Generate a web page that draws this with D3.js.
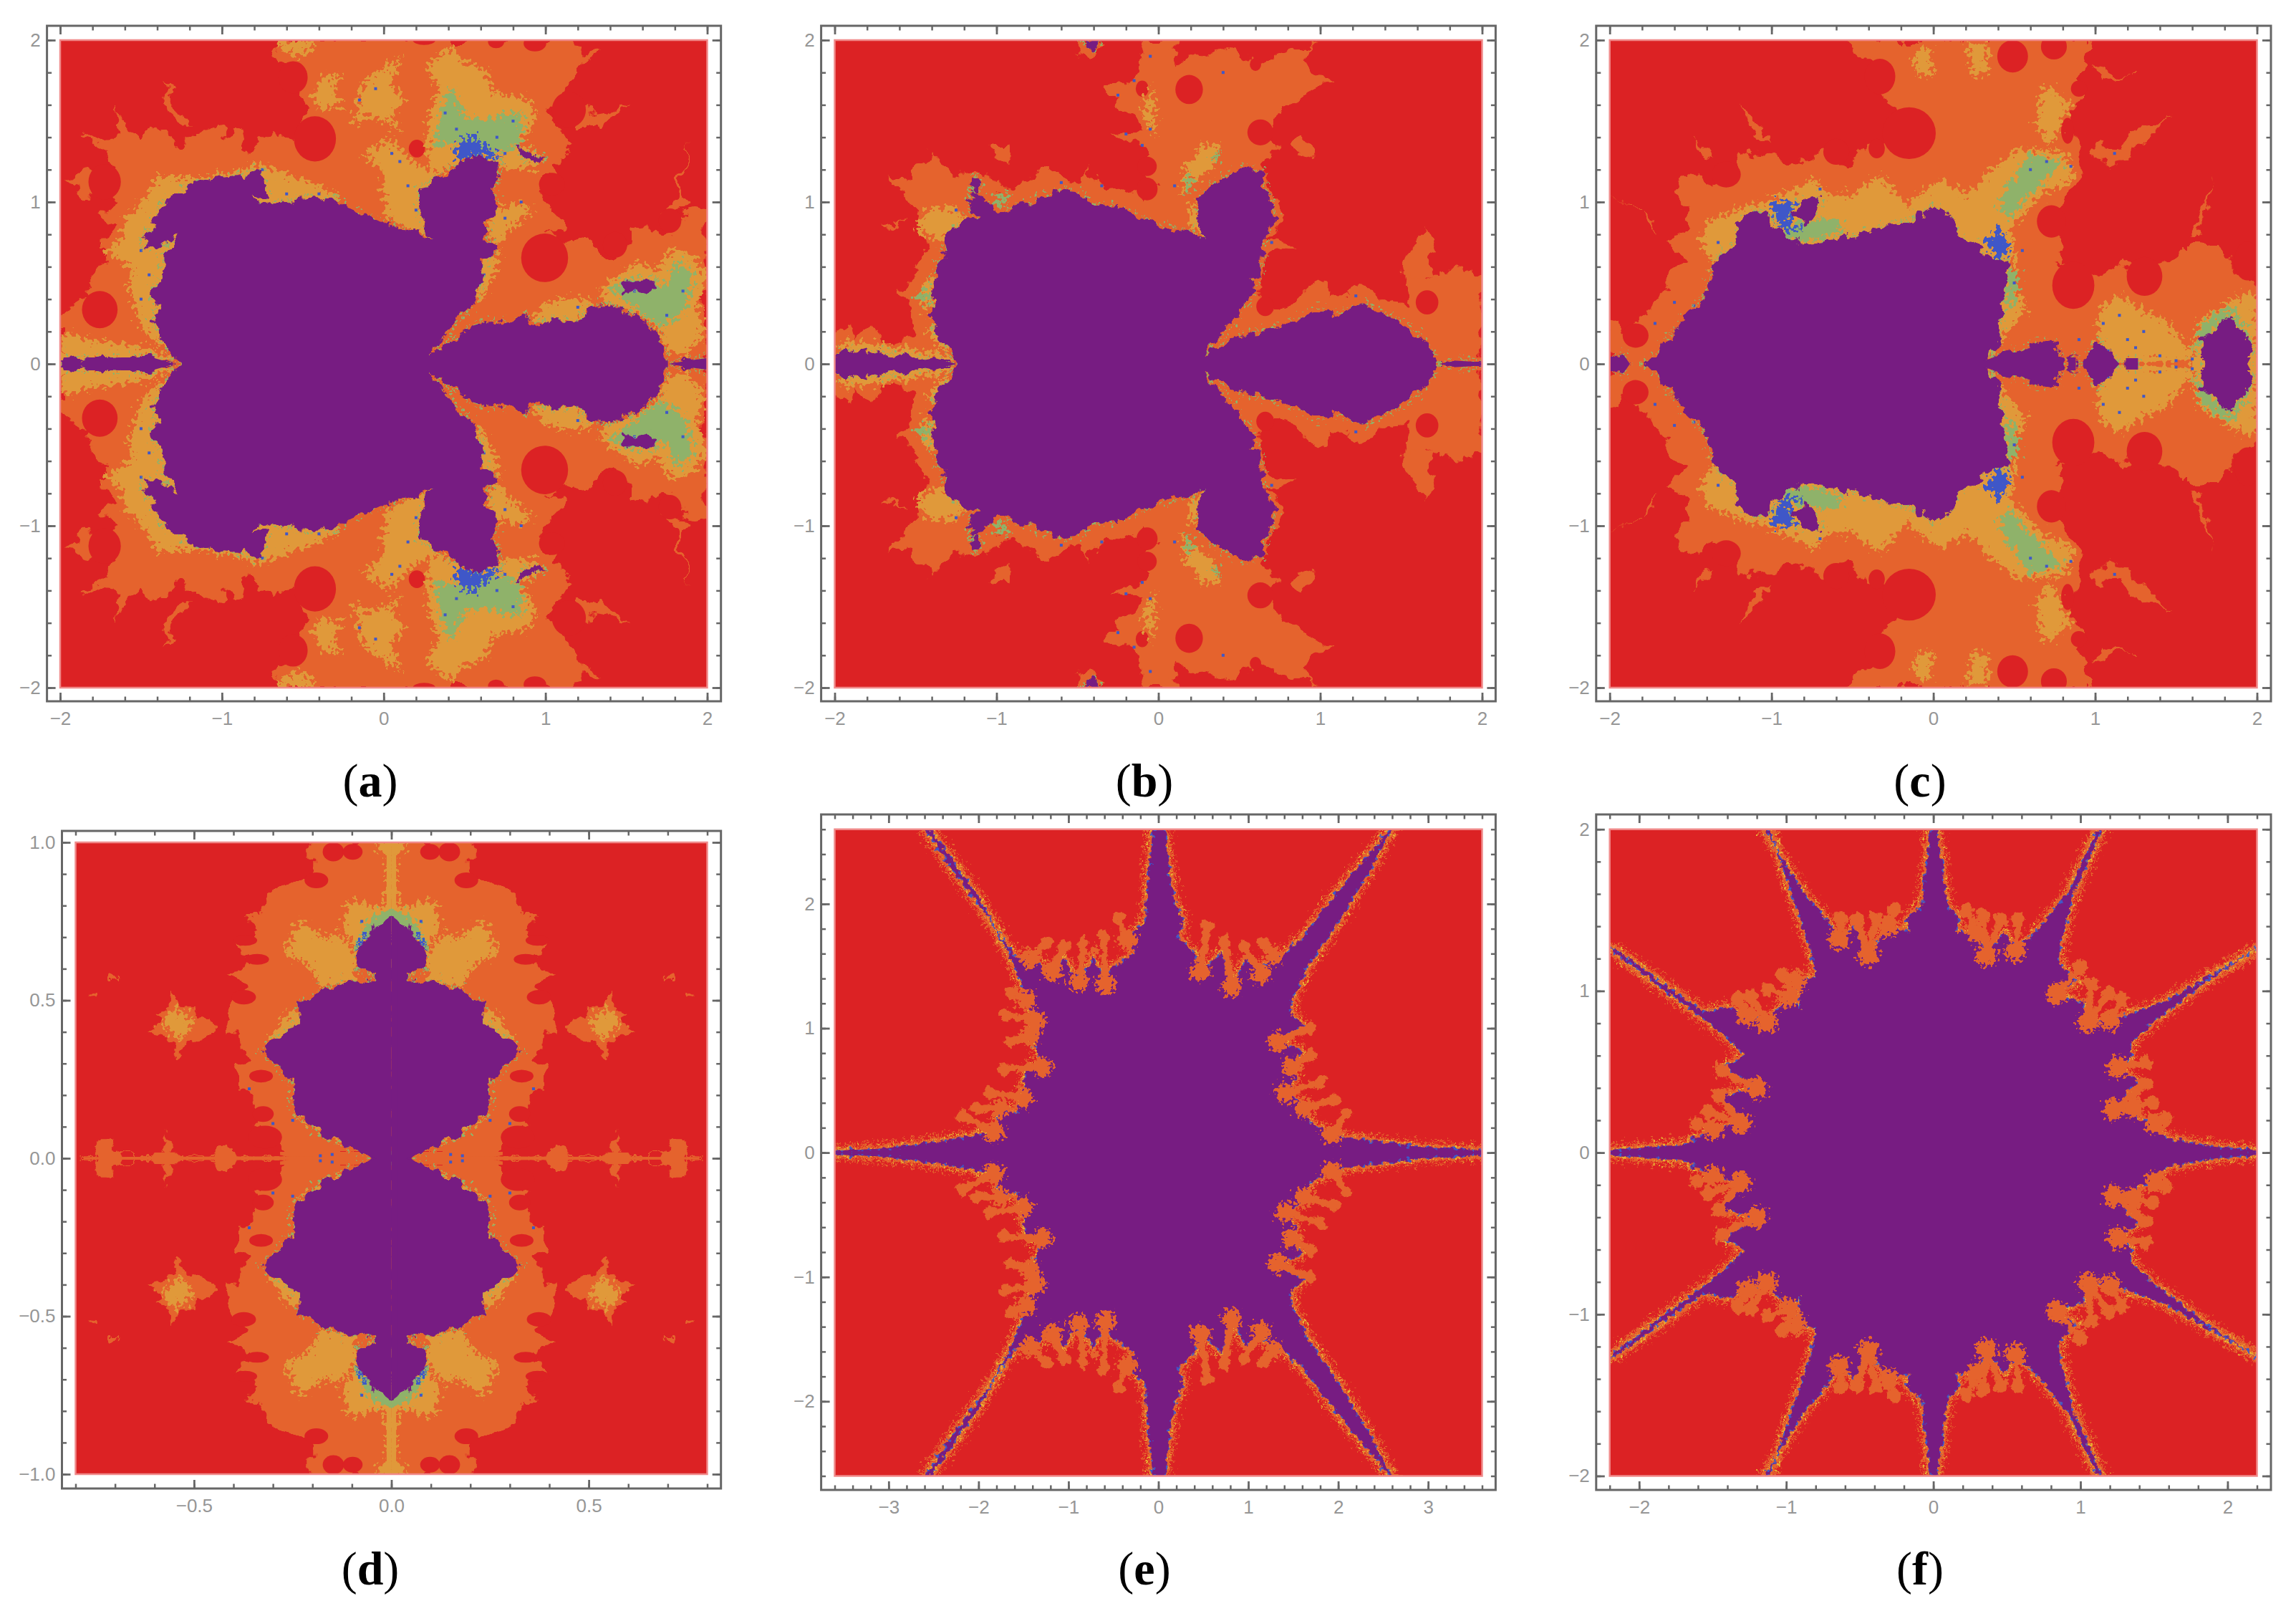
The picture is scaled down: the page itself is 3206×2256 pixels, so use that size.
<!DOCTYPE html>
<html>
<head>
<meta charset="utf-8">
<script src="https://cdn.jsdelivr.net/npm/d3@7"></script>
<style>
body { margin: 0; background: #fff; }
svg { display: block; }
</style>
</head>
<body>
<svg id="fig" width="3206" height="2256"></svg>
<script>
// outlines, in plot units, upper half only (mirrored when drawn)
const aPurple = [
 [[-1.24,0],[-1.32,.065],[-1.37,.16],[-1.42,.255],[-1.40,.35],[-1.435,.43],[-1.395,.49],[-1.365,.60],[-1.335,.70],[-1.29,.805],[-1.365,.735],[-1.47,.705],[-1.495,.80],[-1.415,.84],[-1.395,.965],[-1.29,1.03],[-1.17,1.12],[-1.02,1.155],[-.87,1.165],[-.77,1.205],[-.725,1.11],[-.74,1.03],[-.83,1.02],[-.695,.98],[-.515,1.02],[-.395,1.015],[-.29,1.02],[-.215,.95],[-.065,.905],[.085,.84],[.295,.775],[.235,.905],[.22,1.08],[.325,1.14],[.47,1.235],[.59,1.29],[.71,1.235],[.725,1.155],[.66,1.08],[.71,.98],[.635,.885],[.635,.76],[.71,.70],[.605,.635],[.59,.475],[.56,.38],[.455,.27],[.285,.05],[.47,.175],[.65,.26],[.80,.26],[.875,.30],[.95,.24],[1.07,.27],[1.205,.26],[1.265,.35],[1.40,.365],[1.58,.285],[1.70,.19],[1.735,.065],[1.735,0]],
 [[-1.99,0],[-1.975,.05],[-1.92,.05],[-1.87,.01],[-1.81,.045],[-1.69,.035],[-1.47,.05],[-1.29,0]],
 [[1.76,0],[1.88,.02],[2,.035],[2,0]],
 [[.83,1.345],[.905,1.30],[1.01,1.265],[.92,1.25],[.83,1.30]],
 [[1.49,.51],[1.685,.525],[1.67,.445],[1.47,.445]]
];
const aOrange = [
 [[-2,0],[-2,.26],[-1.92,.37],[-1.845,.43],[-1.77,.525],[-1.725,.70],[-1.785,.705],[-1.665,.855],[-1.77,.92],[-1.665,.98],[-1.635,1.155],[-1.695,1.30],[-1.86,1.44],[-1.74,1.38],[-1.635,1.41],[-1.665,1.60],[-1.56,1.44],[-1.50,1.38],[-1.41,1.46],[-1.335,1.42],[-1.26,1.345],[-1.17,1.40],[-1.0,1.47],[-.96,1.395],[-.89,1.46],[-.87,1.345],[-.81,1.33],[-.755,1.41],[-.665,1.41],[-.54,1.38],[-.52,1.57],[-.47,1.585],[-.54,1.68],[-.48,1.775],[-.545,1.85],[-.65,1.835],[-.695,1.945],[-.65,2],[1.16,2],[1.25,1.945],[1.37,1.93],[1.205,1.87],[1.175,1.775],[1.07,1.645],[1.04,1.52],[1.10,1.41],[1.16,1.36],[1.115,1.27],[1.04,1.23],[1.10,1.155],[.965,1.14],[.95,1.03],[1.04,.957],[1.115,.87],[1.02,.80],[1.16,.74],[1.235,.76],[1.325,.72],[1.415,.655],[1.505,.76],[1.52,.825],[1.595,.86],[1.73,.84],[1.80,.82],[1.875,.955],[2,.965],[2,0]],
 [[-1.365,1.755],[-1.29,1.58],[-1.185,1.47],[-1.275,1.485],[-1.35,1.565]],
 [[-1.98,1.155],[-1.815,1.19],[-1.755,1.14],[-1.785,1.0],[-1.86,1.03],[-1.875,1.11]],
 [[1.19,1.63],[1.265,1.615],[1.295,1.55],[1.52,1.62],[1.295,1.46],[1.19,1.46]],
 [[1.745,.92],[1.80,1.06],[1.905,1.38],[1.83,1.06],[1.89,1.0],[1.80,.92]]
];
const aAmber = [
 [[-1.35,.095],[-1.50,.225],[-1.575,.475],[-1.56,.60],[-1.74,.70],[-1.62,.76],[-1.605,.89],[-1.47,1.03],[-1.41,1.155],[-1.275,1.155],[-1.11,1.155],[-.90,1.19],[-.81,1.235],[-.74,1.235],[-.605,1.17],[-.425,1.11],[-.275,1.03],[-.5,.7],[-1.3,.3]],
 [[-.125,1.30],[.025,1.39],[.175,1.265],[.26,1.20],[.34,1.18],[.34,1.10],[.235,.98],[.265,.825],[.295,.775],[.115,.85],[.01,.915],[-.005,1.08],[-.005,1.185]],
 [[.265,1.455],[.34,1.71],[.265,1.835],[.40,1.96],[.50,1.865],[.62,1.83],[.68,1.68],[.89,1.63],[.95,1.535],[.845,1.36],[1.01,1.27],[.92,1.205],[.74,1.205],[.59,1.265],[.32,1.17],[.265,1.30]],
 [[-.20,1.475],[-.14,1.615],[-.185,1.645],[-.08,1.775],[.115,1.90],[.04,1.725],[.13,1.63],[.055,1.535],[.10,1.44],[-.005,1.505],[-.095,1.535]],
 [[-.44,1.645],[-.38,1.775],[-.275,1.79],[-.305,1.68],[-.26,1.60],[-.395,1.57]],
 [[-.665,1.96],[-.545,1.90],[-.425,1.945],[-.45,2],[-.65,2]],
 [[1.34,.475],[1.505,.585],[1.58,.635],[1.67,.57],[1.80,.73],[1.94,.635],[2,.54],[1.94,.35],[1.98,.19],[1.88,.065],[1.76,.065],[1.70,.225],[1.52,.32],[1.37,.38]],
 [[.92,.285],[1.01,.38],[1.19,.41],[1.31,.38],[1.22,.27],[.98,.22]],
 [[-2,.19],[-1.77,.145],[-1.47,.095],[-1.26,.03],[-2,0]],
 [[.56,.38],[.60,.65],[.72,.70],[.68,.55],[.62,.42]],
 [[.65,.78],[.64,.95],[.85,1.0],[.92,.95],[.80,.85],[.70,.72]]
];
const aGreen = [
 [[.34,1.52],[.41,1.71],[.50,1.535],[.62,1.505],[.86,1.57],[.845,1.36],[.71,1.30],[.50,1.38],[.32,1.33]],
 [[1.40,.46],[1.52,.54],[1.73,.475],[1.82,.635],[1.92,.57],[1.875,.35],[1.73,.225],[1.58,.32]]
];
const aBlue = [[[.43,1.33],[.545,1.425],[.62,1.345],[.74,1.27],[.58,1.285],[.47,1.235]]];
const aDiscs = [[-.425,1.39,.13,.14],[-1.755,.335,.11,.115],[-1.725,1.125,.10,.11],[.995,.655,.145,.15],[-.56,1.77,.09,.1],[.205,1.33,.05,.055],[1.43,.735,.075,.08],[1.145,1.57,.105,.11],[1.77,.885,.07,.075],[.25,2,.07,.03],[.695,1.99,.05,.04],[.935,1.98,.07,.05],[1.04,1.11,.08,.07]];
const aDots = [[.1,1.25],[.15,1.1],[.2,.95],[.05,1.3],[.38,1.55],[.45,1.45],[.7,1.4],[.8,1.5],[.75,1.3],[-1.5,.4],[-1.45,.55],[-1.5,.7],[-.75,1.2],[-.6,1.05],[-.4,1.05],[-.15,1.63],[-.05,1.7],[1.55,.45],[1.75,.3],[1.85,.45],[.75,.9],[.85,1.0],[.62,.55],[1.2,.35]];

const bPurple = [
 [[-1.24,0],[-1.28,.065],[-1.34,.145],[-1.385,.255],[-1.40,.38],[-1.385,.54],[-1.34,.665],[-1.30,.79],[-1.21,.89],[-1.12,.905],[-1.18,1.0],[-1.165,1.08],[-1.06,1.0],[-.955,.95],[-.85,.98],[-.70,1.03],[-.58,1.08],[-.46,1.045],[-.37,.965],[-.22,.98],[-.175,.935],[-.01,.855],[.30,.775],[.24,.885],[.26,1.03],[.375,1.14],[.525,1.20],[.63,1.205],[.66,1.08],[.72,.90],[.66,.775],[.63,.57],[.555,.41],[.48,.30],[.285,.05],[.495,.175],[.735,.22],[.885,.285],[1.005,.335],[1.095,.30],[1.245,.365],[1.365,.32],[1.485,.27],[1.63,.16],[1.715,.035],[1.715,0]],
 [[-2,0],[-2,.05],[-1.9,.09],[-1.785,.065],[-1.71,.08],[-1.635,.035],[-1.56,.065],[-1.47,.02],[-1.38,.035],[-1.25,0]],
 [[1.735,0],[1.84,.02],[2,.01],[2,0]],
 [[-.47,2],[-.45,1.96],[-.415,1.95],[-.38,1.96],[-.36,2]],
 [[-1.16,1.09],[-1.125,1.17],[-1.09,1.09],[-1.125,1.06]]
];
const bOrange = [
 [[-2,0],[-2,.19],[-1.91,.25],[-1.88,.145],[-1.76,.25],[-1.70,.13],[-1.535,.16],[-1.505,.285],[-1.565,.38],[-1.61,.445],[-1.49,.555],[-1.52,.635],[-1.415,.73],[-1.475,.885],[-1.67,1.19],[-1.52,1.125],[-1.43,1.33],[-1.33,1.22],[-1.21,1.19],[-1.10,1.14],[-1.03,1.155],[-.91,1.06],[-.82,1.155],[-.70,1.205],[-.595,1.17],[-.49,1.11],[-.43,1.22],[-.37,1.125],[-.295,1.06],[-.175,1.08],[-.10,1.03],[-.01,1.125],[-.115,1.235],[-.07,1.30],[-.085,1.345],[-.28,1.41],[-.115,1.455],[-.13,1.55],[-.25,1.60],[-.355,1.68],[-.205,1.725],[-.115,1.805],[-.10,2],[.11,2],[.09,1.87],[.30,1.915],[.39,1.965],[.48,1.915],[.60,1.84],[.705,1.885],[1.005,1.995],[.885,1.90],[.96,1.775],[1.095,1.76],[.885,1.645],[.765,1.57],[.705,1.44],[.72,1.345],[.63,1.235],[.66,1.11],[.81,.92],[.675,.79],[.855,.70],[.66,.65],[.615,.38],[.765,.32],[1.005,.555],[1.095,.38],[1.215,.475],[1.35,.43],[1.545,.35],[1.50,.585],[1.72,.57],[1.90,.60],[2,.525],[2,0]],
 [[.825,1.345],[.885,1.41],[.975,1.30],[.885,1.27]],
 [[-1.07,1.345],[-.935,1.345],[-.91,1.265],[-1.0,1.25]],
 [[-1.715,.87],[-1.58,.885],[-1.64,.84]],
 [[1.5,.57],[1.575,.70],[1.63,.855],[1.72,.70],[1.66,.57]],
 [[-.50,1.97],[-.415,2],[-.33,1.97],[-.415,1.87]]
];
const bAmber = [
 [[-1.5,.82],[-1.44,.95],[-1.25,.97],[-1.2,.88],[-1.33,.76]],
 [[-1.49,.42],[-1.42,.55],[-1.37,.5],[-1.37,.38],[-1.44,.33]],
 [[-1.42,.2],[-1.36,.3],[-1.33,.2],[-1.28,.08],[-1.36,.1]],
 [[.14,1.05],[.24,1.15],[.33,1.2],[.37,1.33],[.3,1.38],[.22,1.28],[.16,1.2]],
 [[.18,.86],[.24,.82],[.3,.78],[.26,.95],[.2,1.0]],
 [[-.1,1.55],[-.04,1.72],[-.02,1.5],[-.03,1.4]],
 [[-1.96,.14],[-1.72,.12],[-1.35,.07],[-1.26,.02],[-1.96,.02]]
];
const bGreen = [[[-1.0,.98],[-.92,1.0],[-.93,1.06],[-1.0,1.05]],[[.18,1.05],[.22,1.15],[.19,1.2],[.16,1.1]],[[-1.5,.42],[-1.43,.48],[-1.41,.42],[-1.46,.37]],[[.33,1.28],[.39,1.32],[.36,1.22]]];
const bBlue = [];
const bDiscs = [[.19,1.695,.085,.09],[.63,1.43,.08,.08],[-.07,1.08,.065,.07],[-.07,1.22,.06,.06],[1.66,.38,.07,.075],[.66,.355,.055,.06],[-.1,1.7,.04,.05],[.6,1.85,.035,.04]];
const bDots = [[-.1,1.35],[-.05,1.45],[-.2,1.42],[-.15,1.75],[-.25,1.66],[.4,1.8],[-.05,1.9],[.1,1.1],[-.35,1.1],[-1.25,.95],[-.6,1.12],[1.22,.42],[.7,.75],[.68,.9]];

const cPurple = [
 [[-1.78,0],[-1.715,.065],[-1.625,.175],[-1.535,.285],[-1.415,.41],[-1.38,.525],[-1.325,.68],[-1.22,.73],[-1.19,.885],[-1.09,.95],[-1.0,.92],[-.97,.84],[-.88,.76],[-.73,.76],[-.52,.775],[-.34,.84],[-.135,.885],[-.015,.98],[.105,.90],[.165,.79],[.37,.635],[.475,.635],[.43,.38],[.40,.13],[.31,.02],[.565,.095],[.64,.13],[.76,.12],[.805,.03],[.805,0]],
 [[.925,0],[1.015,.145],[1.15,0]],
 [[.835,0],[.835,.05],[.88,.05],[.88,0]],
 [[1.19,0],[1.19,.035],[1.265,.035],[1.265,0]],
 [[1.685,0],[1.655,.16],[1.73,.205],[1.835,.30],[1.91,.22],[1.975,.065],[1.94,0]],
 [[-2,0],[-2,.05],[-1.91,.05],[-1.875,0]],
 [[-.88,.92],[-.805,1.015],[-.70,1.03],[-.715,.935],[-.79,.855]]
];
const cOrange = [
 [[-2,0],[-2,.255],[-1.94,.285],[-1.925,.19],[-1.76,.35],[-1.67,.46],[-1.61,.57],[-1.55,.65],[-1.64,.76],[-1.535,.81],[-1.49,.965],[-1.61,1.08],[-1.43,1.17],[-1.34,1.105],[-1.25,1.17],[-1.18,1.315],[-1.03,1.265],[-.82,1.235],[-.655,1.345],[-.565,1.22],[-.46,1.33],[-.37,1.30],[-.25,1.40],[-.25,1.57],[-.3,1.65],[-.33,1.77],[-.4,1.87],[-.55,2],[1.0,2],[.88,1.775],[.925,1.665],[.835,1.52],[.88,1.33],[.88,1.08],[.73,.95],[.73,.825],[.82,.62],[.745,.60],[1.03,.54],[1.18,.60],[1.415,.635],[1.565,.73],[1.77,.73],[1.88,.54],[2,.51],[2,0]],
 [[-1.98,1.03],[-1.745,.885],[-1.715,.81],[-1.82,.94]],
 [[-1.19,1.615],[-1.0,1.36],[-1.12,1.425]],
 [[-1.475,1.39],[-1.37,1.25],[-1.445,1.235]],
 [[1.0,1.315],[1.46,1.52],[1.12,1.205],[.985,1.285]],
 [[.97,1.835],[1.22,1.80],[1.03,1.75]],
 [[1.595,.79],[1.745,1.14],[1.68,.92],[1.62,.78]]
];
const cAmber = [
 [[-1.445,.76],[-1.385,.885],[-1.18,.965],[-1.03,1.0],[-.73,1.14],[-.64,1.045],[-.49,1.045],[-.34,1.17],[-.255,1.075],[-.165,.98],[.045,1.14],[.195,1.045],[.40,1.235],[.55,1.33],[.82,1.30],[.88,1.14],[.67,1.045],[.49,.855],[.505,.475],[.58,.35],[.43,.16],[.34,.035],[-.5,.4],[-1.3,.5]],
 [[-.12,1.91],[-.03,1.96],[.0,1.8],[-.1,1.78]],
 [[.67,1.71],[.75,1.70],[.85,1.6],[.76,1.42],[.72,1.33],[.64,1.5]],
 [[.21,1.98],[.33,1.98],[.34,1.79],[.24,1.79]],
 [[1.03,.35],[1.15,.42],[1.3,.33],[1.45,.26],[1.55,.12],[1.62,.03],[1.0,0]],
 [[1.6,.12],[1.65,.27],[1.8,.36],[1.9,.42],[2,.45],[2,0],[1.6,0]]
];
const cGreen = [[[.4,.95],[.5,.9],[.55,1.0],[.8,1.25],[.6,1.3],[.45,1.1]],[[-.98,.78],[-.8,.75],[-.55,.82],[-.6,.9],[-.85,.88]],[[1.6,.05],[1.65,.24],[1.83,.36],[1.95,.2],[1.98,.07],[1.9,.22],[1.82,.28],[1.7,.19]],[[.45,.6],[.53,.55],[.5,.35],[.44,.38]]];
const cBlue = [[[-1.0,.93],[-.97,1.02],[-.85,1.0],[-.89,.9],[-.82,.82],[-.93,.83]],[[.32,.75],[.4,.85],[.48,.72],[.42,.63]]];
const cDiscs = [[-1.84,.175,.08,.075],[-.15,1.425,.165,.16],[-.33,1.775,.095,.11],[.49,1.9,.095,.1],[.745,1.96,.08,.08],[.865,.485,.13,.145],[1.305,.54,.11,.12],[1.94,.635,.08,.12],[-.35,1.33,.05,.06],[-.6,1.31,.08,.08],[-1.28,1.17,.09,.08],[.73,.88,.09,.1],[.9,1.7,.05,.05],[.83,1.44,.04,.08]];
const cDots = [[.6,1.2],[.7,1.25],[.85,1.22],[.35,.72],[.55,.7],[.5,.5],[1.05,.25],[1.15,.3],[1.2,.15],[1.3,.2],[1.4,.05],[1.5,.02],[1.6,.03],[-1.72,.25],[-1.6,.38],[-1.48,.36],[-1.33,.75],[1.08,.08],[.9,.15],[1.12,1.3],[-.7,1.08],[1.25,.1]];

// panel d is mirrored in x too, so only its upper right quarter is traced
const dPurple = [[[0,0],[.037,0],[.11,.035],[.185,.083],[.24,.14],[.25,.19],[.245,.24],[.295,.30],[.33,.345],[.28,.387],[.227,.436],[.233,.494],[.178,.527],[.135,.551],[.037,.568],[.08,.60],[.086,.65],[.055,.716],[0,.768]]];
const dOrange = [
 [[0,1],[.2,1],[.20,.913],[.245,.863],[.28,.839],[.32,.814],[.337,.773],[.375,.773],[.337,.732],[.355,.69],[.40,.683],[.35,.65],[.355,.61],[.435,.60],[.38,.568],[.368,.527],[.405,.494],[.423,.387],[.374,.42],[.368,.354],[.362,.32],[.393,.305],[.386,.24],[.356,.18],[.325,.149],[.35,.108],[.282,.075],[.282,.01],[.233,0],[0,0]],
 [[.452,.433],[.497,.453],[.49,.486],[.528,.469],[.555,.535],[.564,.469],[.60,.453],[.589,.42],[.613,.403],[.564,.387],[.546,.313],[.515,.371],[.472,.395]],
 [[.2,.006],[.78,.004],[.78,0],[.2,0]],
 [[.39,0],[.4,.03],[.42,.035],[.44,.03],[.45,0]],
 [[.53,0],[.55,.018],[.6,.018],[.61,0]],
 [[.68,0],[.69,.025],[.7,.07],[.74,.07],[.75,.025],[.74,0]],
 [[.545,.02],[.575,.09],[.575,.02]],
 [[.345,.225],[.375,.24],[.37,.21]],
 [[.69,.575],[.71,.58],[.715,.56],[.69,.56]],
 [[.74,.51],[.765,.515],[.75,.5]]
];
const dAmber = [
 [[.086,.634],[.14,.724],[.166,.69],[.233,.757],[.27,.65],[.196,.60],[.184,.543],[.098,.56]],
 [[0,.79],[.11,.815],[.123,.732],[.086,.65],[.037,.568],[0,.568]],
 [[0,.98],[.012,.98],[.012,.75],[0,.75]],
 [[0,1],[.045,1],[.03,.97],[0,.96]],
 [[.21,.47],[.26,.46],[.31,.37],[.28,.34],[.2,.44]],
 [[.24,.28],[.245,.19],[.24,.14],[.2,.14],[.2,.28]],
 [[.14,.09],[.2,.12],[.24,.13],[.11,.035]],
 [[.5,.44],[.56,.48],[.58,.42],[.53,.37]]
];
const dGreen = [[[0,.79],[.05,.76],[.085,.70],[.09,.65],[.05,.7],[0,.76]]];
const dBlue = [[[.07,.72],[.09,.66],[.085,.64],[.06,.7]]];
const dDiscs = [[.32,.067,.043,.036],[.325,.14,.027,.025],[.374,.51,.031,.023],[.34,.63,.03,.017],[.37,.69,.03,.017],[.147,.97,.027,.03],[.098,.97,.025,.025],[.19,.88,.03,.025],[.28,.35,.025,.02],[.33,.26,.03,.02]];
const dDots = [[.36,.22],[.25,.12],[.3,.11],[.15,.012],[.18,.008],[.27,.3],[.075,.75]];

const ePurple = [[[3.6,0],[3.6,.015],[2.89,.045],[2.245,.11],[1.92,.15],[1.705,.235],[1.625,.36],[1.49,.46],[1.41,.48],[1.545,.61],[1.49,.69],[1.60,.815],[1.33,.89],[1.49,.98],[1.625,1.02],[1.46,1.125],[1.515,1.27],[1.60,1.40],[1.68,1.52],[1.81,1.645],[2.08,1.94],[2.35,2.27],[2.6,2.6],[2.57,2.6],[1.975,2.085],[1.60,1.73],[1.38,1.585],[1.275,1.585],[1.14,1.44],[.975,1.565],[.815,1.335],[.705,1.605],[.465,1.46],[.41,1.605],[.22,1.73],[.275,1.875],[.165,2.06],[.115,2.31],[.075,2.6],[-.065,2.6],[-.10,2.27],[-.155,1.855],[-.345,1.71],[-.265,1.605],[-.535,1.48],[-.59,1.355],[-.72,1.565],[-.885,1.375],[-1.05,1.565],[-1.18,1.46],[-1.425,1.565],[-1.585,1.565],[-1.855,1.855],[-2.29,2.27],[-2.6,2.6],[-2.53,2.6],[-1.965,2.02],[-1.64,1.565],[-1.53,1.375],[-1.48,1.23],[-1.37,1.065],[-1.425,.94],[-1.29,.69],[-1.48,.69],[-1.505,.44],[-1.585,.315],[-1.75,.36],[-1.83,.17],[-2.29,.11],[-3.04,.033],[-3.6,.015],[-3.6,0]]];
// lobe centre and the spot on the purple edge it grows from
const eLobes = [[-.605,1.746,-.59,1.355],[-.83,1.68,-.885,1.375],[-1.047,1.667,-1.18,1.46],[-1.236,1.688,-1.425,1.565],[-.443,1.896,-.345,1.71],[.545,1.825,.465,1.46],[.734,1.70,.815,1.335],[.95,1.655,1.14,1.44],[1.166,1.68,1.275,1.585],[1.678,1.0,1.33,.89],[1.695,.78,1.49,.69],[1.80,.565,1.41,.48],[1.948,.42,1.625,.36],[2.094,.316,1.92,.15],[-1.65,.89,-1.425,.94],[-1.72,.67,-1.29,.69],[-1.867,.48,-1.505,.44],[-2.02,.358,-1.75,.36],[-2.18,.295,-1.83,.17],[-1.64,1.293,-1.48,1.23],[-1.695,1.106,-1.37,1.065]];

const fPurple = [[[2.2,0],[2.2,.013],[1.92,.035],[1.625,.083],[1.545,.115],[1.51,.18],[1.395,.21],[1.36,.275],[1.23,.27],[1.315,.37],[1.395,.435],[1.25,.53],[1.345,.58],[1.345,.675],[1.43,.755],[1.56,.85],[1.855,1.06],[2.2,1.263],[1.79,1.045],[1.56,.93],[1.365,.87],[1.2,.82],[1.05,.805],[1.02,.93],[.84,.98],[.97,1.06],[.855,1.17],[.87,1.30],[.95,1.59],[1.15,2],[1.115,2],[.92,1.62],[.77,1.445],[.64,1.32],[.56,1.25],[.49,1.365],[.36,1.22],[.295,1.365],[.15,1.365],[.18,1.46],[.10,1.51],[.065,1.75],[.023,2],[-.023,2],[-.05,1.75],[-.08,1.525],[-.195,1.43],[-.15,1.365],[-.31,1.40],[-.445,1.22],[-.54,1.40],[-.64,1.32],[-.74,1.46],[-.87,1.59],[-1.15,2],[-1.115,2],[-.90,1.43],[-.835,1.25],[-.79,1.09],[-.935,1.06],[-.90,.885],[-.985,.965],[-1.13,.805],[-1.265,.85],[-1.395,.90],[-1.56,.87],[-2.19,1.275],[-2.19,1.25],[-1.46,.755],[-1.38,.69],[-1.28,.61],[-1.41,.53],[-1.2,.40],[-1.43,.355],[-1.31,.18],[-1.495,.147],[-1.69,.05],[-2.2,.013],[-2.2,0]]];
const fLobes = [[-.52,1.436,-.445,1.22],[-.39,1.445,-.445,1.22],[-.27,1.50,-.31,1.40],[-.625,1.445,-.64,1.32],[.23,1.50,.295,1.365],[.335,1.468,.36,1.22],[.46,1.44,.36,1.22],[.575,1.445,.56,1.25],[.995,1.147,.84,.98],[1.077,1.045,1.05,.805],[1.19,.98,1.05,.805],[1.28,.95,1.2,.82],[-1.025,1.10,-.935,1.06],[-1.125,1.013,-.985,.965],[-1.24,.965,-1.13,.805],[-1.33,.95,-1.265,.85],[-1.435,.50,-1.2,.40],[-1.455,.356,-1.31,.18],[-1.527,.253,-1.31,.18],[-1.61,.18,-1.495,.147],[1.445,.555,1.25,.53],[1.44,.42,1.23,.27],[1.485,.308,1.36,.275],[1.576,.21,1.51,.18]];

const ticksInt = [-3, -2, -1, 0, 1, 2, 3];
const ticksHalf = [-.5, 0, .5];
const ticksUnit = [-1, -.5, 0, .5, 1];
const colors = { red: "#dc2224", edge: "#f08a8a", orange: "#e5632d", amber: "#e0993a", yellow: "#e8b433", green: "#8fb26a", blue: "#3f57c8", purple: "#771c82", frame: "#666", label: "#969696" };

const panels = [
 { id: "a", box: [65.6, 1006.7, 36, 979], px: [84, 987.5], py: [960, 56], dx: [-2, 2], dy: [-2, 2], xt: ticksInt, yt: ticksInt, step: .2, fmt: "d", cx: 517, cy: 1112,
   purple: aPurple, orange: aOrange, amber: aAmber, green: aGreen, blue: aBlue, discs: aDiscs, dots: aDots },
 { id: "b", box: [1146.6, 2088.4, 36, 979], px: [1165.5, 2069.5], py: [960, 56], dx: [-2, 2], dy: [-2, 2], xt: ticksInt, yt: ticksInt, step: .2, fmt: "d", cx: 1598, cy: 1112,
   purple: bPurple, orange: bOrange, amber: bAmber, green: bGreen, blue: bBlue, discs: bDiscs, dots: bDots },
 { id: "c", box: [2228.8, 3171, 36, 979], px: [2247.7, 3151.5], py: [960, 56], dx: [-2, 2], dy: [-2, 2], xt: ticksInt, yt: ticksInt, step: .2, fmt: "d", cx: 2681, cy: 1112,
   purple: cPurple, orange: cOrange, amber: cAmber, green: cGreen, blue: cBlue, discs: cDiscs, dots: cDots },
 { id: "d", box: [86.5, 1006.7, 1160, 2078], px: [105.5, 987.5], py: [2058, 1176], dx: [-.8, .8], dy: [-1, 1], xt: ticksHalf, yt: ticksUnit, step: .1, fmt: ".1f", cx: 517, cy: 2212, quad: true,
   purple: dPurple, orange: dOrange, amber: dAmber, green: dGreen, blue: dBlue, discs: dDiscs, dots: dDots },
 { id: "e", box: [1146.6, 2088.4, 1137, 2080], px: [1165.5, 2069.5], py: [2060.5, 1157.7], dx: [-3.6, 3.6], dy: [-2.6, 2.6], xt: ticksInt, yt: ticksInt, step: .2, fmt: "d", cx: 1598, cy: 2212, star: true, lobe: [.07, .05], root: [.11, .08],
   purple: ePurple, lobes: eLobes },
 { id: "f", box: [2228.8, 3171, 1137, 2080], px: [2247.7, 3151.5], py: [2060.5, 1157.7], dx: [-2.2, 2.2], dy: [-2, 2], xt: ticksInt, yt: ticksInt, step: .2, fmt: "d", cx: 2681, cy: 2212, star: true, lobe: [.05, .045], root: [.07, .065],
   purple: fPurple, lobes: fLobes }
];

const svg = d3.select("#fig");
svg.append("rect").attr("width", 3206).attr("height", 2256).attr("fill", "#fff");

// edge texture only: displaces the outlines a few pixels, the traced points stay as read
const defs = svg.append("defs");
function addFilter(id, freq, octaves, scale, seed) {
    const f = defs.append("filter").attr("id", id)
        .attr("x", "-5%").attr("y", "-5%").attr("width", "110%").attr("height", "110%")
        .attr("color-interpolation-filters", "sRGB");
    f.append("feTurbulence").attr("type", "fractalNoise").attr("baseFrequency", freq)
        .attr("numOctaves", octaves).attr("seed", seed).attr("result", "n");
    f.append("feDisplacementMap").attr("in", "SourceGraphic").attr("in2", "n")
        .attr("scale", scale).attr("xChannelSelector", "R").attr("yChannelSelector", "G");
}
addFilter("rough", .035, 4, 34, 3);
addFilter("edge", .06, 4, 22, 8);
addFilter("grain", .16, 2, 34, 5);
addFilter("fine", .12, 3, 12, 11);
addFilter("burst", .2, 2, 26, 4);

function minorTicks(lo, hi, step) {
    const n = Math.round((hi - lo) / step);
    const first = Math.ceil(lo / step - 1e-6);
    return d3.range(n + 1).map(i => +((first + i) * step).toFixed(2)).filter(d => d <= hi + 1e-6);
}

function drawPanel(p) {
    const [L, R, T, B] = p.box;
    const x = d3.scaleLinear().domain(p.dx).range(p.px);
    const y = d3.scaleLinear().domain(p.dy).range(p.py);
    const g = svg.append("g").attr("id", "panel-" + p.id);

    g.append("clipPath").attr("id", "clip-" + p.id).append("rect")
        .attr("x", p.px[0]).attr("y", p.py[1])
        .attr("width", p.px[1] - p.px[0]).attr("height", p.py[0] - p.py[1]);

    // thin band along the mirror axes, used to close the seam the texture would open
    const seam = g.append("clipPath").attr("id", "seam-" + p.id);
    seam.append("rect").attr("x", p.px[0]).attr("y", y(0) - 9)
        .attr("width", p.px[1] - p.px[0]).attr("height", 18);
    if (p.quad) seam.append("rect").attr("x", x(0) - 9).attr("y", p.py[1])
        .attr("width", 18).attr("height", p.py[0] - p.py[1]);

    const plot = g.append("g").attr("clip-path", `url(#clip-${p.id})`);
    plot.append("rect").attr("x", p.px[0]).attr("y", p.py[1])
        .attr("width", p.px[1] - p.px[0]).attr("height", p.py[0] - p.py[1])
        .attr("fill", colors.red);

    // mirrored copies: y only, or both axes for the quarter traced panel
    const mirrors = p.quad ? [[1, 1], [1, -1], [-1, 1], [-1, -1]] : [[1, 1], [1, -1]];
    const line = d3.line().x(d => x(d[0])).y(d => y(d[1]));

    function mirrored(filter, draw, parent) {
        mirrors.forEach(m => {
            const tx = m[0] < 0 ? 2 * x(0) : 0, ty = m[1] < 0 ? 2 * y(0) : 0;
            const o = (parent || plot).append("g").attr("transform", `translate(${tx},${ty}) scale(${m[0]},${m[1]})`);
            const inner = o.append("g");
            if (filter) inner.attr("filter", `url(#${filter})`);
            draw(inner);
        });
    }

    function layer(polys, fill, filter) {
        mirrored(filter, s => s.selectAll("path").data(polys).join("path")
            .attr("d", d => line(d) + "Z")
            .attr("fill", fill));
        // same outline, unfiltered, only inside the seam band
        const band = plot.append("g").attr("clip-path", `url(#seam-${p.id})`);
        mirrored(null, s => s.selectAll("path").data(polys).join("path")
            .attr("d", d => line(d) + "Z")
            .attr("fill", fill), band);
    }

    // open path: the closing edge lies on the mirror axis and must not show
    function rim(polys, stroke, width, dash, filter) {
        mirrored(filter, s => s.selectAll("path").data(polys).join("path")
            .attr("d", d => line(d))
            .attr("fill", "none")
            .attr("stroke", stroke)
            .attr("stroke-width", width)
            .attr("stroke-dasharray", dash));
    }

    function blobs(data, fill, filter) {
        mirrored(filter, s => s.selectAll("ellipse").data(data).join("ellipse")
            .attr("cx", d => x(d[0])).attr("cy", d => y(d[1]))
            .attr("rx", d => x(d[2]) - x(0)).attr("ry", d => y(0) - y(d[3]))
            .attr("fill", fill));
    }

    function dots(data, fill, size) {
        mirrored(null, s => s.selectAll("rect").data(data).join("rect")
            .attr("x", d => x(d[0]) - size / 2).attr("y", d => y(d[1]) - size / 2)
            .attr("width", size).attr("height", size)
            .attr("fill", fill));
    }

    if (p.star) {
        rim(p.purple, colors.orange, 20, "3 5", "burst");
        rim(p.purple, colors.orange, 8, "none", "fine");
        rim(p.purple, colors.yellow, 6, "3 8", "grain");
        layer(p.purple, colors.purple, "fine");
        rim(p.purple, colors.blue, 2.5, "4 9", "fine");
        mirrored("fine", s => s.selectAll("line").data(p.lobes).join("line")
            .attr("x1", d => x(d[0])).attr("y1", d => y(d[1]))
            .attr("x2", d => x(d[2])).attr("y2", d => y(d[3]))
            .attr("stroke", colors.orange).attr("stroke-width", 9));
        blobs(p.lobes.map(d => [d[0], d[1], p.lobe[0], p.lobe[1]]), colors.orange, "fine");
        blobs(p.lobes.map(d => [d[2], d[3], p.root[0], p.root[1]]), colors.orange, "burst");
    } else {
        layer(p.orange, colors.orange, "rough");
        blobs(p.discs, colors.red);
        layer(p.amber, colors.amber, "grain");
        layer(p.green, colors.green, "grain");
        layer(p.blue, colors.blue, "grain");
        dots(p.dots, colors.blue, 4);
        rim(p.purple, colors.green, 7, "4 11", "grain");
        layer(p.purple, colors.purple, "edge");
    }

    // pale rim of the raster
    g.append("rect").attr("x", p.px[0]).attr("y", p.py[1])
        .attr("width", p.px[1] - p.px[0]).attr("height", p.py[0] - p.py[1])
        .attr("fill", "none").attr("stroke", colors.edge).attr("stroke-width", 2.5);

    const xMajor = p.xt.filter(d => d >= p.dx[0] && d <= p.dx[1]);
    const yMajor = p.yt.filter(d => d >= p.dy[0] && d <= p.dy[1]);
    const xMinor = minorTicks(p.dx[0], p.dx[1], p.step);
    const yMinor = minorTicks(p.dy[0], p.dy[1], p.step);
    const fmt = d3.format(p.fmt);

    function axis(maker, s, major, minor, tr, pad, labels) {
        g.append("g").attr("transform", tr)
            .call(maker(s).tickValues(minor).tickSize(-6.5).tickFormat(""))
            .call(a => a.select(".domain").remove())
            .call(a => a.selectAll("line").attr("stroke", colors.frame).attr("stroke-width", 2.5));
        const big = g.append("g").attr("transform", tr)
            .call(maker(s).tickValues(major).tickSize(-12).tickPadding(pad).tickFormat(labels ? fmt : ""))
            .call(a => a.select(".domain").remove())
            .call(a => a.selectAll("line").attr("stroke", colors.frame).attr("stroke-width", 2.8));
        big.selectAll("text").attr("fill", colors.label)
            .attr("font-family", "'Liberation Sans', sans-serif").attr("font-size", 26);
    }

    axis(d3.axisBottom, x, xMajor, xMinor, `translate(0,${B})`, 15, true);
    axis(d3.axisTop, x, xMajor, xMinor, `translate(0,${T})`, 0, false);
    axis(d3.axisLeft, y, yMajor, yMinor, `translate(${L},0)`, 9, true);
    axis(d3.axisRight, y, yMajor, yMinor, `translate(${R},0)`, 0, false);

    g.append("rect").attr("x", L).attr("y", T).attr("width", R - L).attr("height", B - T)
        .attr("fill", "none").attr("stroke", colors.frame).attr("stroke-width", 3);

    const cap = g.append("text").attr("x", p.cx).attr("y", p.cy).attr("text-anchor", "middle")
        .attr("font-family", "'Liberation Serif', serif").attr("font-size", 66).attr("fill", "#000");
    cap.append("tspan").text("(");
    cap.append("tspan").attr("font-weight", "bold").text(p.id);
    cap.append("tspan").text(")");
}

panels.forEach(drawPanel);
</script>
</body>
</html>
